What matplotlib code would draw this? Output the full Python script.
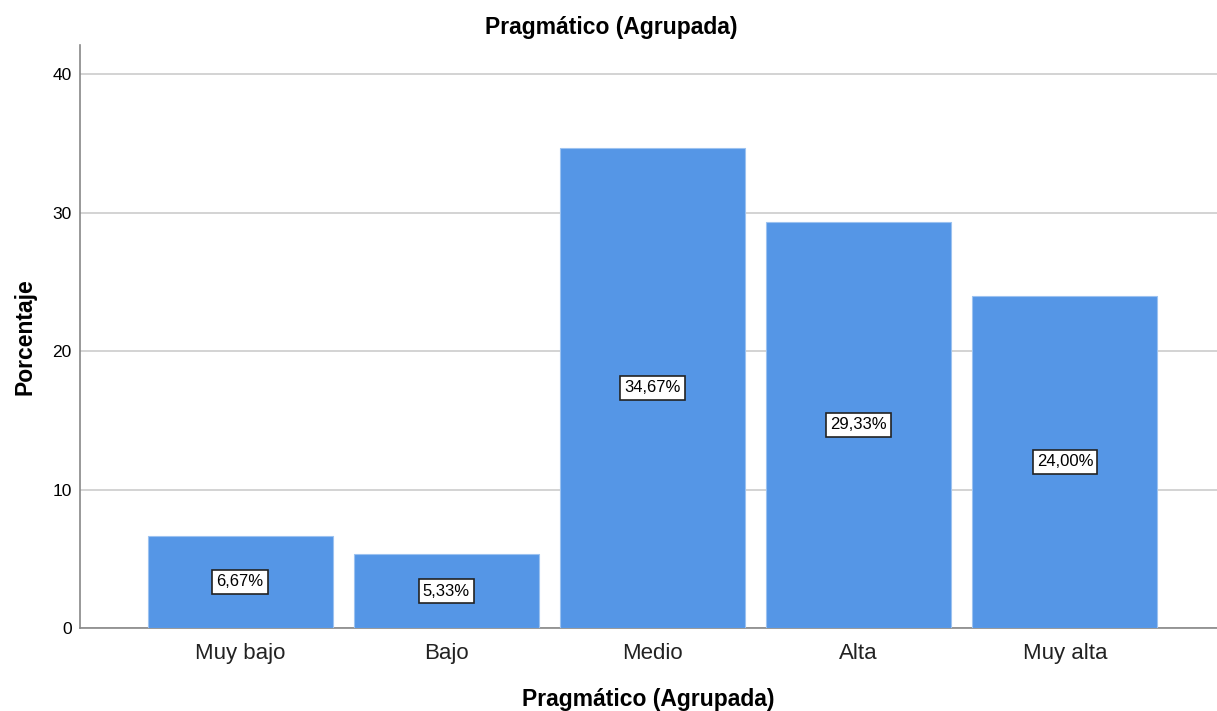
import matplotlib
matplotlib.use('Agg')
import matplotlib.pyplot as plt

categorias = ['Muy bajo', 'Bajo', 'Medio', 'Alta', 'Muy alta']
porcentajes = [6.67, 5.33, 34.67, 29.33, 24.00]
yticks = [0, 10, 20, 30, 40]

plt.rcParams['font.family'] = ['Liberation Sans', 'DejaVu Sans']

fig = plt.figure(figsize=(12.17, 7.11), dpi=100)
ax = fig.add_axes([0.0657, 0.1167, 0.9343, 0.82])

x = list(range(len(categorias)))
ax.bar(x, porcentajes, width=0.897, color='#5596E6', edgecolor='#9cc2f0',
       linewidth=0.8, zorder=3)

# etiquetas de porcentaje a media altura de cada barra
for xi, v in zip(x, porcentajes):
    txt = f'{v:.2f}'.replace('.', ',') + '%'
    ax.text(xi, v / 2, txt, ha='center', va='center', fontsize=12,
            color='black', zorder=4,
            bbox=dict(boxstyle='square,pad=0.25', facecolor='white',
                      edgecolor='#222222', linewidth=1.2))

ax.set_xlim(-0.776, 4.737)
ax.set_ylim(0, 42.1)
ax.set_yticks(yticks)
ax.set_xticks(x)
ax.set_xticklabels(categorias, fontsize=16, color='#222222')
ax.tick_params(axis='y', labelsize=12.5, length=0, pad=6)
ax.tick_params(axis='x', length=0, pad=11)
ax.yaxis.grid(True, color='#cccccc', linewidth=1.2, zorder=0)
ax.set_axisbelow(True)

for s in ['top', 'right']:
    ax.spines[s].set_visible(False)
for s in ['left', 'bottom']:
    ax.spines[s].set_color('#888888')
    ax.spines[s].set_linewidth(1.2)

fig.text(0.502, 0.962, 'Pragmático (Agrupada)', ha='center', va='center',
         fontsize=16.5, fontweight='bold')
ax.set_xlabel('Pragmático (Agrupada)', fontsize=16.5, fontweight='bold', labelpad=17)
ax.set_ylabel('Porcentaje', fontsize=16.5, fontweight='bold', labelpad=11)

fig.savefig('out.png', dpi=100)
